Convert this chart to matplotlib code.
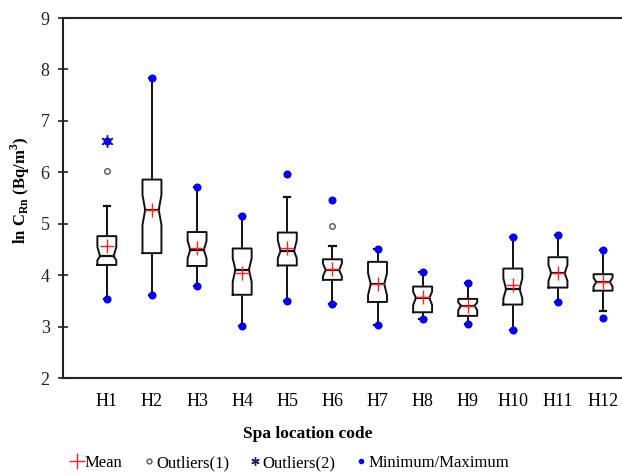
import matplotlib
matplotlib.use("Agg")
import matplotlib.pyplot as plt
from matplotlib.lines import Line2D

plt.rcParams['font.family'] = ['Liberation Serif', 'DejaVu Serif']

# values (ln of radon concentration)
labels = ["H1", "H2", "H3", "H4", "H5", "H6", "H7", "H8", "H9", "H10", "H11", "H12"]
q1 = [4.20, 4.43, 4.18, 3.62, 4.19, 3.91, 3.48, 3.28, 3.21, 3.43, 3.76, 3.70]
q3 = [4.76, 5.86, 4.84, 4.52, 4.83, 4.31, 4.26, 3.78, 3.54, 4.13, 4.35, 4.02]
med = [4.37, 5.27, 4.49, 4.11, 4.47, 4.10, 3.83, 3.56, 3.41, 3.73, 4.04, 3.87]
cilo = [4.29, 4.98, 4.33, 3.87, 4.33, 3.98, 3.61, 3.42, 3.32, 3.55, 3.89, 3.78]
cihi = [4.55, 5.56, 4.67, 4.33, 4.68, 4.23, 4.04, 3.68, 3.47, 3.94, 4.20, 3.95]
means = [4.57, 5.27, 4.52, 4.05, 4.53, 4.12, 3.83, 3.57, 3.41, 3.81, 4.04, 3.87]
whislo = [3.54, 3.61, 3.80, 3.02, 3.50, 3.44, 3.04, 3.14, 3.05, 2.94, 3.48, 3.30]
whishi = [5.35, 7.84, 5.72, 5.16, 5.52, 4.57, 4.51, 4.07, 3.85, 4.75, 4.79, 4.49]
mins = [3.54, 3.61, 3.80, 3.02, 3.50, 3.44, 3.04, 3.14, 3.05, 2.94, 3.48, 3.17]
maxs = [6.61, 7.84, 5.72, 5.16, 5.96, 5.46, 4.51, 4.07, 3.85, 4.75, 4.79, 4.49]
out1_pos = [1, 6]
out1_val = [6.02, 4.96]
out2_pos = [1]
out2_val = [6.61]

fig = plt.figure(figsize=(6.22, 4.75), dpi=100)
ax = fig.add_axes([0.101, 0.204, 0.899, 0.758])

w = 0.42      # box width
nw = 0.30     # notch waist width
cw = 0.07     # cap width
lc = "#111111"
pos = list(range(1, len(labels) + 1))

for i, p in enumerate(pos):
    # whiskers + caps
    ax.plot([p, p], [whislo[i], q1[i]], color=lc, lw=1.4, zorder=2)
    ax.plot([p, p], [q3[i], whishi[i]], color=lc, lw=1.4, zorder=2)
    ax.plot([p - cw, p + cw], [whislo[i], whislo[i]], color=lc, lw=1.6, zorder=2)
    ax.plot([p - cw, p + cw], [whishi[i], whishi[i]], color=lc, lw=1.6, zorder=2)
    # notched box
    l, r = p - w / 2, p + w / 2
    nl, nr = p - nw / 2, p + nw / 2
    bx = [l, r, r, nr, r, r, l, l, nl, l, l]
    by = [q1[i], q1[i], cilo[i], med[i], cihi[i], q3[i], q3[i], cihi[i],
          med[i], cilo[i], q1[i]]
    ax.fill(bx, by, color="white", zorder=2)
    ax.plot(bx, by, color=lc, lw=1.4, zorder=3)
    ax.plot([nl, nr], [med[i], med[i]], color=lc, lw=1.6, zorder=3)

ax.plot(out1_pos, out1_val, linestyle="none", marker="o", ms=4,
        mfc="white", mec="#555555", mew=1.0, zorder=4)
ax.plot(out2_pos, out2_val, linestyle="none", marker=(6, 2, 0), ms=9,
        color="#1a1a6e", mew=1.0, zorder=4)
ax.plot(pos, mins, linestyle="none", marker="o", ms=4.8, color="#0000ff", zorder=5)
ax.plot(pos, maxs, linestyle="none", marker="o", ms=4.8, color="#0000ff", zorder=5)
ax.plot(pos, means, linestyle="none", marker="+", ms=10, mew=1.0,
        color="#ff2020", zorder=6)

ax.set_xlim(0.024, 12.42)
ax.set_ylim(2, 9)
ax.set_yticks(range(2, 10))
ax.set_xticks(pos)
ax.set_xticklabels(labels)
ax.tick_params(axis="x", length=0, pad=11, labelsize=13)
ax.tick_params(axis="y", direction="inout", length=7, width=1.2, pad=6,
               labelsize=13, colors="#222222")
for s in ["left", "top", "bottom"]:
    ax.spines[s].set_linewidth(1.5)
    ax.spines[s].set_color("#222222")
ax.spines["right"].set_visible(False)

fig.text(20 / 622, 1 - 190 / 475, r"ln C$_{\mathregular{Rn}}$ (Bq/m$^{\mathregular{3}}$)",
         rotation=90, ha="center", va="center", fontsize=12, fontweight="bold")
fig.text(308 / 622, 1 - 434 / 475, "Spa location code", ha="center", va="center",
         fontsize=12.5, fontweight="bold")

handles = [
    Line2D([], [], linestyle="none", marker="+", ms=11, mew=1.0, color="#ff2020"),
    Line2D([], [], linestyle="none", marker="o", ms=3.5, mfc="white", mec="#555555"),
    Line2D([], [], linestyle="none", marker=(6, 2, 0), ms=6, color="#1a1a6e"),
    Line2D([], [], linestyle="none", marker="o", ms=3, color="#0000ff"),
]
fig.legend(handles, ["Mean", "Outliers(1)", "Outliers(2)", "Minimum/Maximum"],
           loc="center", bbox_to_anchor=(291 / 622, 1 - 463 / 475), ncol=4,
           frameon=False, fontsize=12, handlelength=0.6, handletextpad=0.15,
           columnspacing=1.25)

fig.savefig("out.png", dpi=100)
